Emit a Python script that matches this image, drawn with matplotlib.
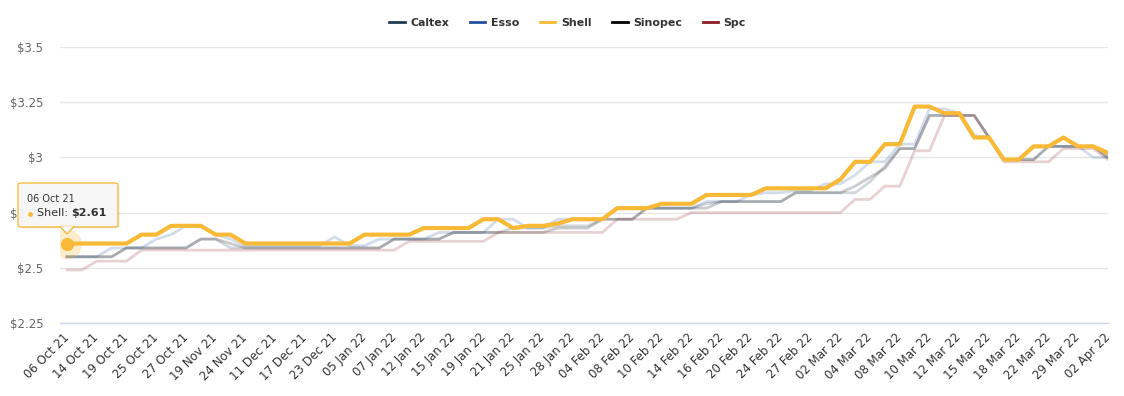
import numpy as np
import matplotlib
matplotlib.use('Agg')
import matplotlib.pyplot as plt
from matplotlib.lines import Line2D
from matplotlib.patches import FancyBboxPatch, Polygon

plt.rcParams['font.family'] = ['DejaVu Sans']

# Подписи оси X (каждая вторая точка)
tick_labels = ['06 Oct 21', '14 Oct 21', '19 Oct 21', '25 Oct 21', '27 Oct 21',
               '19 Nov 21', '24 Nov 21', '11 Dec 21', '17 Dec 21', '23 Dec 21',
               '05 Jan 22', '07 Jan 22', '12 Jan 22', '15 Jan 22', '19 Jan 22',
               '21 Jan 22', '25 Jan 22', '28 Jan 22', '04 Feb 22', '08 Feb 22',
               '10 Feb 22', '14 Feb 22', '16 Feb 22', '20 Feb 22', '24 Feb 22',
               '27 Feb 22', '02 Mar 22', '04 Mar 22', '08 Mar 22', '10 Mar 22',
               '12 Mar 22', '15 Mar 22', '18 Mar 22', '22 Mar 22', '29 Mar 22',
               '02 Apr 22']

caltex = [
    2.55, 2.55, 2.55, 2.55, 2.59, 2.59, 2.59, 2.59, 2.59, 2.63,
    2.63, 2.59, 2.59, 2.59, 2.59, 2.59, 2.59, 2.59, 2.59, 2.59,
    2.59, 2.59, 2.63, 2.63, 2.63, 2.63, 2.66, 2.66, 2.66, 2.66,
    2.68, 2.68, 2.68, 2.69, 2.69, 2.69, 2.72, 2.72, 2.72, 2.77,
    2.77, 2.77, 2.77, 2.79, 2.80, 2.80, 2.80, 2.80, 2.80, 2.84,
    2.84, 2.84, 2.84, 2.84, 2.89, 2.96, 3.04, 3.04, 3.19, 3.19,
    3.19, 3.19, 3.09, 2.99, 2.99, 2.99, 3.05, 3.05, 3.05, 3.05,
    3.00]

esso = [
    2.55, 2.55, 2.55, 2.59, 2.59, 2.59, 2.63, 2.65, 2.69, 2.69,
    2.65, 2.63, 2.60, 2.60, 2.60, 2.60, 2.60, 2.60, 2.64, 2.60,
    2.60, 2.63, 2.63, 2.63, 2.63, 2.66, 2.66, 2.66, 2.66, 2.72,
    2.72, 2.68, 2.68, 2.72, 2.72, 2.72, 2.72, 2.77, 2.77, 2.77,
    2.77, 2.77, 2.77, 2.80, 2.80, 2.80, 2.83, 2.84, 2.84, 2.85,
    2.85, 2.88, 2.88, 2.92, 2.98, 2.98, 3.06, 3.06, 3.22, 3.22,
    3.20, 3.10, 3.09, 2.99, 2.99, 3.05, 3.05, 3.05, 3.05, 3.00,
    3.00]

shell = [
    2.61, 2.61, 2.61, 2.61, 2.61, 2.65, 2.65, 2.69, 2.69, 2.69,
    2.65, 2.65, 2.61, 2.61, 2.61, 2.61, 2.61, 2.61, 2.61, 2.61,
    2.65, 2.65, 2.65, 2.65, 2.68, 2.68, 2.68, 2.68, 2.72, 2.72,
    2.68, 2.69, 2.69, 2.70, 2.72, 2.72, 2.72, 2.77, 2.77, 2.77,
    2.79, 2.79, 2.79, 2.83, 2.83, 2.83, 2.83, 2.86, 2.86, 2.86,
    2.86, 2.86, 2.90, 2.98, 2.98, 3.06, 3.06, 3.23, 3.23, 3.20,
    3.20, 3.09, 3.09, 2.99, 2.99, 3.05, 3.05, 3.09, 3.05, 3.05,
    3.02]

sinopec = [
    2.55, 2.55, 2.55, 2.55, 2.59, 2.59, 2.59, 2.59, 2.59, 2.63,
    2.63, 2.61, 2.59, 2.59, 2.59, 2.59, 2.59, 2.59, 2.59, 2.59,
    2.59, 2.59, 2.63, 2.63, 2.63, 2.63, 2.66, 2.66, 2.66, 2.66,
    2.66, 2.66, 2.66, 2.68, 2.68, 2.68, 2.72, 2.72, 2.72, 2.77,
    2.77, 2.77, 2.77, 2.77, 2.80, 2.80, 2.80, 2.80, 2.80, 2.84,
    2.84, 2.84, 2.84, 2.87, 2.91, 2.95, 3.04, 3.04, 3.19, 3.19,
    3.19, 3.19, 3.09, 2.99, 2.99, 2.99, 3.05, 3.05, 3.05, 3.05,
    3.00]

spc = [
    2.49, 2.49, 2.53, 2.53, 2.53, 2.58, 2.58, 2.58, 2.58, 2.58,
    2.58, 2.58, 2.58, 2.58, 2.58, 2.58, 2.58, 2.58, 2.58, 2.58,
    2.58, 2.58, 2.58, 2.62, 2.62, 2.62, 2.62, 2.62, 2.62, 2.66,
    2.66, 2.66, 2.66, 2.66, 2.66, 2.66, 2.66, 2.72, 2.72, 2.72,
    2.72, 2.72, 2.75, 2.75, 2.75, 2.75, 2.75, 2.75, 2.75, 2.75,
    2.75, 2.75, 2.75, 2.81, 2.81, 2.87, 2.87, 3.03, 3.03, 3.19,
    3.19, 3.19, 3.09, 2.98, 2.98, 2.98, 2.98, 3.04, 3.04, 3.04,
    2.99]

y_ticks = [2.25, 2.5, 2.75, 3, 3.25, 3.5]
y_tick_labels = ['$2.25', '$2.5', '$2.75', '$3', '$3.25', '$3.5']

names = ['Caltex', 'Esso', 'Shell', 'Sinopec', 'Spc']
colors = ['#1f3d52', '#22529e', '#f7b936', '#000000', '#8c1d25']
series = [caltex, esso, shell, sinopec, spc]
active = 'Shell'

W, H = 1124, 396
fig = plt.figure(figsize=(W / 100, H / 100), dpi=100)
ax = fig.add_axes([60 / W, 1 - 323 / H, (1108 - 60) / W, (323 - 47) / H])

x = np.arange(len(shell))

# Сначала бледные (неактивные) серии, потом активная
for name, col, vals in zip(names, colors, series):
    if name == active:
        continue
    ax.plot(x, vals, color=col, lw=2, alpha=0.2, solid_joinstyle='round', zorder=2)
ai = names.index(active)
ax.plot(x, series[ai], color=colors[ai], lw=3, solid_joinstyle='round', zorder=4)

# Точка под курсором
ax.plot(x[0], shell[0], 'o', ms=21, color=colors[ai], alpha=0.25, mec='none', zorder=5)
ax.plot(x[0], shell[0], 'o', ms=9.5, color=colors[ai], mec='none', zorder=6)

ax.set_xlim(-0.47, len(shell) - 1)
ax.set_ylim(2.25, 3.5)
ax.set_yticks(y_ticks)
ax.set_yticklabels(y_tick_labels)
ax.set_xticks(x[::2])
ax.set_xticklabels(tick_labels, rotation=45, ha='right', va='center',
                   rotation_mode='anchor')
ax.tick_params(axis='y', length=0, pad=12, labelsize=8.5, labelcolor='#666666')
ax.tick_params(axis='x', length=0, pad=9, labelsize=8.5, labelcolor='#333333')
ax.grid(axis='y', color='#e6e6e6', lw=1)
ax.set_axisbelow(True)
for s in ['top', 'left', 'right']:
    ax.spines[s].set_visible(False)
ax.spines['bottom'].set_color('#ccd6eb')
ax.spines['bottom'].set_linewidth(1)

# Легенда
handles = [Line2D([0], [0], color=c, lw=2) for c in colors]
fig.legend(handles, names, loc='upper center', bbox_to_anchor=(0.505, 0.98),
           ncol=5, frameon=False, handlelength=1.4, handletextpad=0.5,
           columnspacing=1.9, prop={'weight': 'bold', 'size': 7.9},
           labelcolor='#333333')


def px(xp, yp):
    return xp / W, 1 - yp / H


# Подсказка (tooltip) с лёгкой тенью
shadow = FancyBboxPatch(px(19.5, 228.5), 100 / W, 44 / H,
                        boxstyle='round,pad=0,rounding_size=0.004',
                        transform=fig.transFigure, fc='#000000', ec='none',
                        alpha=0.08, zorder=9)
fig.patches.append(shadow)
box = FancyBboxPatch(px(18, 227), 100 / W, 44 / H,
                     boxstyle='round,pad=0,rounding_size=0.004',
                     transform=fig.transFigure, fc='#f7f7f7', ec=colors[ai],
                     lw=1, alpha=0.95, zorder=10)
fig.patches.append(box)
tri = Polygon([px(60, 226.5), px(74, 226.5), px(67, 234)], closed=True,
              transform=fig.transFigure, fc='#f7f7f7', ec=colors[ai], lw=1, zorder=10)
fig.patches.append(tri)
tri2 = Polygon([px(60.8, 226.2), px(73.2, 226.2), px(67, 232.5)], closed=True,
               transform=fig.transFigure, fc='#f7f7f7', ec='none', zorder=11)
fig.patches.append(tri2)

fig.text(*px(27, 199), tick_labels[0], fontsize=7, color='#333333', va='center', zorder=12)
dot = Line2D([px(30, 213.5)[0]], [px(30, 213.5)[1]], marker='o', ms=3.5, color=colors[ai],
             mec='none', transform=fig.transFigure, zorder=12)
fig.add_artist(dot)
t1 = fig.text(*px(37, 213), 'Shell: ', fontsize=8, color='#333333', va='center', zorder=12)
fig.canvas.draw()
bb = t1.get_window_extent()
fig.text(bb.x1 / W, 1 - 213 / H, '$%.2f' % shell[0], fontsize=8, fontweight='bold',
         color='#333333', va='center', zorder=12)

fig.savefig('out.png', dpi=100)
